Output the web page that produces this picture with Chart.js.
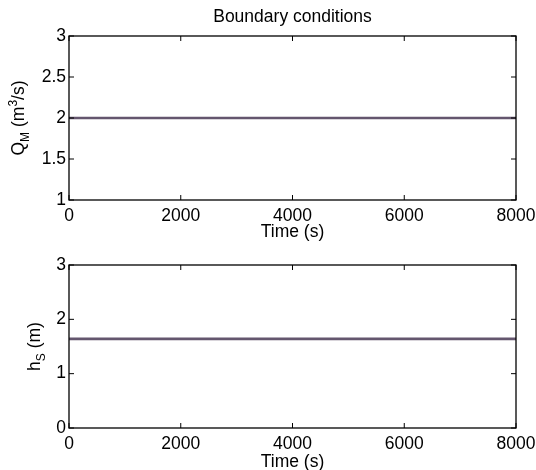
<!DOCTYPE html>
<html>
<head>
<meta charset="utf-8">
<script src="https://cdn.jsdelivr.net/npm/chart.js@4.4.1/dist/chart.umd.min.js"></script>
<style>
  html, body { margin: 0; padding: 0; background: #fff; overflow: hidden; }
  #wrap { position: relative; width: 536px; height: 470px; }
  .panel { position: absolute; left: 0; width: 536px; }
</style>
</head>
<body>
<div id="wrap">
  <div class="panel" style="top:0;height:250px"><canvas id="topChart" width="536" height="250"></canvas></div>
  <div class="panel" style="top:240px;height:240px"><canvas id="bottomChart" width="536" height="240"></canvas></div>
</div>
<script>
// =========================
// Data
// =========================
const times = [0, 1000, 2000, 3000, 4000, 5000, 6000, 7000, 8000];
const qM = [2, 2, 2, 2, 2, 2, 2, 2, 2];
const hS = [1.64, 1.64, 1.64, 1.64, 1.64, 1.64, 1.64, 1.64, 1.64];

const timeTicks = [0, 2000, 4000, 6000, 8000];
const qTicks = [1, 1.5, 2, 2.5, 3];
const hTicks = [0, 1, 2, 3];

const FONT = "'Liberation Sans', Arial, Helvetica, sans-serif";
const FS = 17.5;
Chart.defaults.font.family = FONT;
Chart.defaults.font.size = FS;
Chart.defaults.color = "#000";

// =========================
// Box + inward ticks + rich y label (MATLAB look)
// =========================
const TICK = 5;

function drawRichLabel(ctx, x, cy, parts) {
  ctx.save();
  let total = 0;
  parts.forEach(p => {
    ctx.font = (p.s ? 12 : FS) + "px " + FONT;
    p.w = ctx.measureText(p.t).width;
    total += p.w;
  });
  ctx.translate(x, cy);
  ctx.rotate(-Math.PI / 2);
  ctx.fillStyle = "#000";
  ctx.textBaseline = "alphabetic";
  ctx.textAlign = "left";
  let cx = -total / 2;
  parts.forEach(p => {
    ctx.font = (p.s ? 12 : FS) + "px " + FONT;
    const dy = p.s === -1 ? 4.5 : p.s === 1 ? -7 : 0;
    ctx.fillText(p.t, cx, dy);
    cx += p.w;
  });
  ctx.restore();
}

const boxPlugin = {
  id: "matlabBox",
  afterDraw(chart, args, opts) {
    const { ctx, chartArea: a, scales } = chart;
    ctx.save();
    ctx.strokeStyle = "#000";
    ctx.lineWidth = 1.3;
    ctx.strokeRect(a.left, a.top, a.right - a.left, a.bottom - a.top);
    ctx.beginPath();
    scales.x.ticks.forEach(t => {
      const px = scales.x.getPixelForValue(t.value);
      ctx.moveTo(px, a.bottom); ctx.lineTo(px, a.bottom - TICK);
      ctx.moveTo(px, a.top); ctx.lineTo(px, a.top + TICK);
    });
    scales.y.ticks.forEach(t => {
      const py = scales.y.getPixelForValue(t.value);
      ctx.moveTo(a.left, py); ctx.lineTo(a.left + TICK, py);
      ctx.moveTo(a.right, py); ctx.lineTo(a.right - TICK, py);
    });
    ctx.lineWidth = 1;
    ctx.stroke();
    // title centred over the axes box, as MATLAB does
    if (opts.title) {
      ctx.font = FS + "px " + FONT;
      ctx.fillStyle = "#000";
      ctx.textAlign = "center";
      ctx.textBaseline = "middle";
      ctx.fillText(opts.title, (a.left + a.right) / 2, 17.5);
    }
    ctx.restore();
    if (opts.label) {
      drawRichLabel(ctx, opts.labelX, (a.top + a.bottom) / 2, opts.label);
    }
  },
};

// =========================
// Panel builder
// =========================
function renderPanel(id, values, yTicks, cfg) {
  const ctx = document.getElementById(id).getContext("2d");
  return new Chart(ctx, {
    type: "line",
    data: {
      labels: times,
      datasets: [
        {
          data: times.map((t, i) => ({ x: t, y: values[i] })),
          borderColor: "#64566e",
          borderWidth: 2.6,
          pointRadius: 0,
          tension: 0,
        },
      ],
    },
    options: {
      responsive: false,
      animation: false,
      devicePixelRatio: 1,
      layout: { padding: { top: cfg.padTop, right: 20, left: 0, bottom: 0 } },
      plugins: {
        legend: { display: false },
        tooltip: { enabled: false },
        title: { display: false },
        matlabBox: { label: cfg.yLabel, labelX: cfg.labelX, title: cfg.title },
      },
      scales: {
        x: {
          type: "linear",
          min: 0,
          max: 8000,
          afterBuildTicks: s => { s.ticks = timeTicks.map(v => ({ value: v })); },
          afterFit: s => {
            s.height = cfg.xHeight;
            s.paddingLeft = 0;
            s.paddingRight = 0;
          },
          grid: { display: false, drawTicks: false },
          border: { display: false },
          ticks: { padding: 6, maxRotation: 0, callback: v => String(v) },
          title: {
            display: true,
            text: "Time (s)",
            font: { size: FS },
            padding: { top: 0, bottom: 7.5 },
          },
        },
        y: {
          min: yTicks[0],
          max: yTicks[yTicks.length - 1],
          afterBuildTicks: s => { s.ticks = yTicks.map(v => ({ value: v })); },
          afterFit: s => {
            s.width = 69;
            s.paddingTop = 0;
            s.paddingBottom = 0;
          },
          grid: { display: false, drawTicks: false },
          border: { display: false },
          ticks: { padding: 3, callback: v => String(v) },
        },
      },
    },
    plugins: [boxPlugin],
  });
}

renderPanel("topChart", qM, qTicks, {
  title: "Boundary conditions",
  padTop: 36,
  xHeight: 50,
  labelX: 24,
  yLabel: [
    { t: "Q", s: 0 },
    { t: "M", s: -1 },
    { t: " (m", s: 0 },
    { t: "3", s: 1 },
    { t: "/s)", s: 0 },
  ],
});

renderPanel("bottomChart", hS, hTicks, {
  title: null,
  padTop: 25,
  xHeight: 52,
  labelX: 40,
  yLabel: [
    { t: "h", s: 0 },
    { t: "S", s: -1 },
    { t: " (m)", s: 0 },
  ],
});
</script>
</body>
</html>
